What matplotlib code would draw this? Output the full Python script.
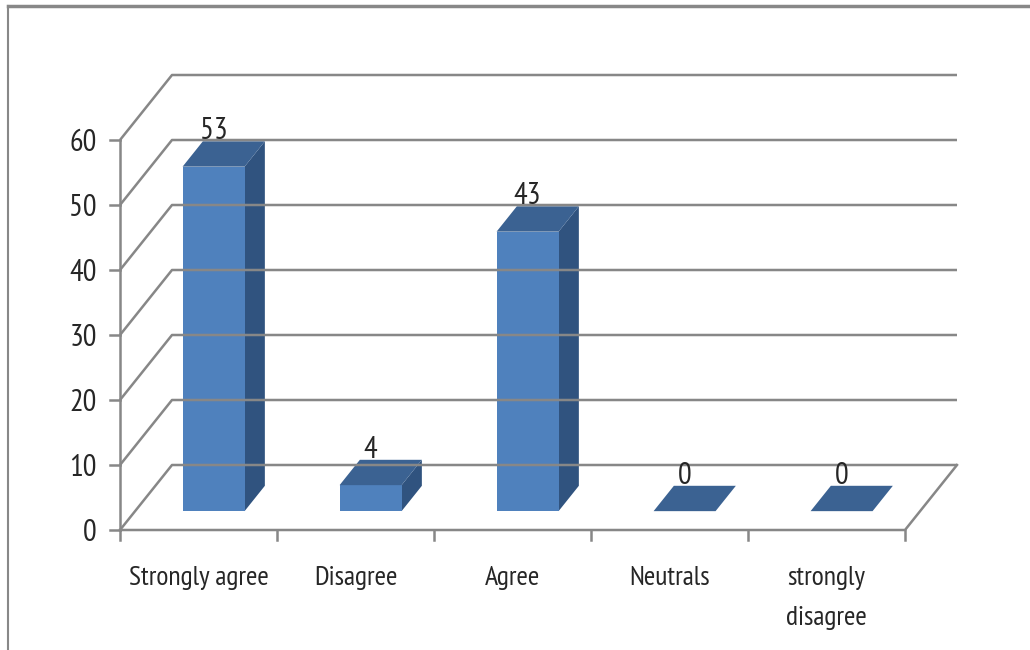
import matplotlib
matplotlib.use("Agg")
import matplotlib.pyplot as plt
from matplotlib.patches import Polygon, Rectangle
from matplotlib.lines import Line2D
from matplotlib import font_manager

# ---------------- data ----------------
categories = ["Strongly agree", "Disagree", "Agree", "Neutrals", "strongly\ndisagree"]
values = [53, 4, 43, 0, 0]
yticks = [0, 10, 20, 30, 40, 50, 60]

# ---------------- style ----------------
names = {f.name for f in font_manager.fontManager.ttflist}
main_font = next((f for f in ["PT Sans Narrow", "Fira Sans Condensed", "Roboto Condensed",
                              "Liberation Sans Narrow", "Liberation Sans"] if f in names),
                 "DejaVu Sans")
plt.rcParams["font.family"] = [main_font, "DejaVu Sans"]

FRONT = "#4F81BD"
TOP = "#3B6292"
SIDE = "#30537F"
GRID = "#878787"
TXT = "#262626"

W_PX, H_PX = 1030, 650
fig = plt.figure(figsize=(W_PX / 100, H_PX / 100), dpi=100)
ax = fig.add_axes([0, 0, 1, 1])
ax.set_axis_off()

# layout calibration (pixel geometry of the plot box)
X0_PX = 120          # left of category 0 (front)
SLOT_PX = 157        # width of one category slot
Y0_PX = 530          # value 0 (front), measured from top
PX_PER_UNIT = 6.5    # pixels per value unit
x_lo = -X0_PX / SLOT_PX
ax.set_xlim(x_lo, x_lo + W_PX / SLOT_PX)
y_lo = -(H_PX - Y0_PX) / PX_PER_UNIT
ax.set_ylim(y_lo, y_lo + H_PX / PX_PER_UNIT)

DX = 52 / SLOT_PX      # depth offset (x, in slot units)
DY = 65 / PX_PER_UNIT  # depth offset (y, in value units)
n = len(categories)
tick_len_x = 10 / SLOT_PX
tick_len_y = 10 / PX_PER_UNIT
LW = 1.8

# walls / gridlines
for v in yticks:
    ax.plot([0, DX, n + DX], [v, v + DY, v + DY], color=GRID, lw=LW, solid_capstyle="butt")
    ax.plot([-tick_len_x, 0], [v, v], color=GRID, lw=LW)
    ax.text(-tick_len_x - 13 / SLOT_PX, v, str(v), ha="right", va="center_baseline",
            fontsize=22, color=TXT)
# floor
ax.plot([0, n, n + DX], [0, 0, DY], color=GRID, lw=LW)
# vertical axis
ax.plot([0, 0], [0, max(yticks)], color=GRID, lw=LW)
# category ticks
for i in range(n + 1):
    ax.plot([i, i], [0, -tick_len_y], color=GRID, lw=LW)

# bars (pseudo-3D)
F0 = 0.29   # depth fraction where bar front sits
D = 0.39    # bar depth fraction
BW = 62 / SLOT_PX
for i, (cat, h) in enumerate(zip(categories, values)):
    xl = i + 0.5 - BW / 2 + F0 * DX
    yb = F0 * DY
    ddx, ddy = D * DX, D * DY
    if h > 0:
        ax.add_patch(Polygon([(xl + BW, yb), (xl + BW + ddx, yb + ddy),
                              (xl + BW + ddx, yb + h + ddy), (xl + BW, yb + h)],
                             closed=True, facecolor=SIDE, edgecolor="none"))
        ax.add_patch(Rectangle((xl, yb), BW, h, facecolor=FRONT, edgecolor="none"))
    ax.add_patch(Polygon([(xl, yb + h), (xl + BW, yb + h),
                          (xl + BW + ddx, yb + h + ddy), (xl + ddx, yb + h + ddy)],
                         closed=True, facecolor=TOP, edgecolor="none"))
    ax.text(xl + BW / 2, yb + h + ddy + 0.3, str(h), ha="center", va="baseline",
            fontsize=22, color=TXT)
    ax.text(i + 0.5, -36 / PX_PER_UNIT, cat, ha="center", va="top", fontsize=20,
            color=TXT, linespacing=1.85)

# outer frame (left and top border)
fig.add_artist(Line2D([8 / W_PX, 8 / W_PX], [0, 1 - 6 / H_PX], transform=fig.transFigure,
                      color="#888888", lw=1.5))
fig.add_artist(Line2D([8 / W_PX, 1], [1 - 6 / H_PX, 1 - 6 / H_PX], transform=fig.transFigure,
                      color="#888888", lw=2.5))

fig.savefig("out.png", dpi=100)
